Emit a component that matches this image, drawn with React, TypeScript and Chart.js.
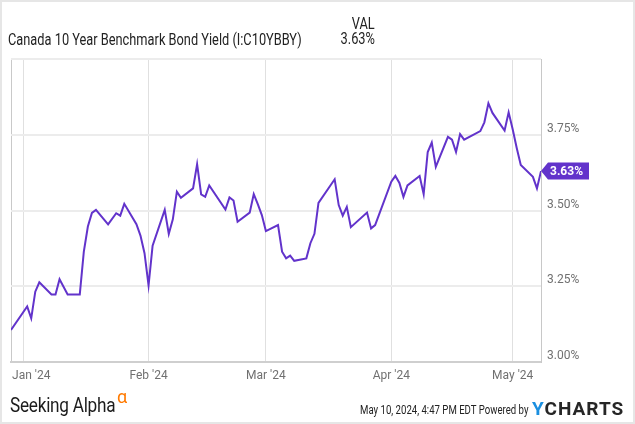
import React, { useEffect, useRef } from 'react';
import { Chart, registerables } from 'chart.js';

Chart.register(...registerables);

// ---- data ----
const seriesTitle = 'Canada 10 Year Benchmark Bond Yield (I:C10YBBY)';
const valHeader = 'VAL';
const lastValueLabel = '3.63%';

const dates = [
  '2023-12-29', '2024-01-02', '2024-01-03', '2024-01-04', '2024-01-05', '2024-01-08', '2024-01-09',
  '2024-01-10', '2024-01-12', '2024-01-15', '2024-01-16', '2024-01-17', '2024-01-18', '2024-01-19',
  '2024-01-22', '2024-01-24', '2024-01-25', '2024-01-26', '2024-01-29', '2024-01-30', '2024-01-31',
  '2024-02-01', '2024-02-02', '2024-02-05', '2024-02-06', '2024-02-07', '2024-02-08', '2024-02-09',
  '2024-02-12', '2024-02-13', '2024-02-14', '2024-02-15', '2024-02-16', '2024-02-20', '2024-02-21',
  '2024-02-22', '2024-02-23', '2024-02-26', '2024-02-27', '2024-02-28', '2024-02-29', '2024-03-01',
  '2024-03-04', '2024-03-05', '2024-03-06', '2024-03-07', '2024-03-08', '2024-03-11', '2024-03-12',
  '2024-03-13', '2024-03-14', '2024-03-18', '2024-03-19', '2024-03-20', '2024-03-21', '2024-03-22',
  '2024-03-26', '2024-03-27', '2024-03-28', '2024-04-01', '2024-04-02', '2024-04-03', '2024-04-04',
  '2024-04-05', '2024-04-08', '2024-04-09', '2024-04-10', '2024-04-11', '2024-04-12', '2024-04-15',
  '2024-04-16', '2024-04-17', '2024-04-18', '2024-04-19', '2024-04-23', '2024-04-24', '2024-04-25',
  '2024-04-26', '2024-04-29', '2024-04-30', '2024-05-01', '2024-05-02', '2024-05-03', '2024-05-06',
  '2024-05-07', '2024-05-08',
];

const yields = [
  3.106, 3.183, 3.144, 3.232, 3.263, 3.223, 3.223,
  3.273, 3.223, 3.223, 3.364, 3.447, 3.492, 3.502,
  3.454, 3.491, 3.483, 3.522, 3.455, 3.417, 3.359,
  3.253, 3.384, 3.502, 3.423, 3.471, 3.562, 3.542,
  3.573, 3.653, 3.553, 3.545, 3.583, 3.503, 3.543,
  3.533, 3.463, 3.493, 3.554, 3.521, 3.485, 3.432,
  3.452, 3.364, 3.342, 3.351, 3.334, 3.342, 3.392,
  3.423, 3.525, 3.603, 3.518, 3.483, 3.512, 3.445,
  3.493, 3.441, 3.452, 3.595, 3.614, 3.591, 3.545,
  3.583, 3.614, 3.554, 3.693, 3.724, 3.644, 3.743,
  3.734, 3.693, 3.752, 3.734, 3.762, 3.791, 3.854,
  3.822, 3.764, 3.824, 3.768, 3.706, 3.650, 3.611,
  3.573, 3.630,
];

const monthGridDates = ['2024-01-01', '2024-02-01', '2024-03-01', '2024-04-01', '2024-05-01'];
const monthLabelDates = ['2024-01-03', '2024-02-01', '2024-03-01', '2024-04-01', '2024-05-01'];
const monthLabels = ["Jan '24", "Feb '24", "Mar '24", "Apr '24", "May '24"];
const yTickValues = [3.0, 3.25, 3.5, 3.75, 4.0];

const footerStamp = 'May 10, 2024, 4:47 PM EDT Powered by';

// ---- helpers ----
const DAY = 86400000;
const ORIGIN = Date.UTC(2024, 0, 1);
const toDay = (s: string) => (Date.parse(s + 'T00:00:00Z') - ORIGIN) / DAY;

const LINE_COLOR = '#6233CB';
const TICK_COLOR = '#707070';

const lastTagPlugin = {
  id: 'lastTag',
  afterDraw(chart: any) {
    const ctx = chart.ctx;
    const y = chart.scales.y.getPixelForValue(yields[yields.length - 1]);
    const x = chart.chartArea.right;
    ctx.save();
    ctx.fillStyle = LINE_COLOR;
    ctx.beginPath();
    ctx.moveTo(x, y);
    ctx.lineTo(x + 7, y - 8.5);
    ctx.lineTo(x + 48, y - 8.5);
    ctx.lineTo(x + 48, y + 8.5);
    ctx.lineTo(x + 7, y + 8.5);
    ctx.closePath();
    ctx.fill();
    ctx.fillStyle = '#ffffff';
    ctx.font = 'bold 12px Roboto';
    ctx.textBaseline = 'middle';
    ctx.textAlign = 'left';
    ctx.fillText(lastValueLabel, x + 9, y + 0.5);
    ctx.restore();
  },
};

function LineChart() {
  const ref = useRef<HTMLCanvasElement | null>(null);
  useEffect(() => {
    if (!ref.current) return;
    const xMin = toDay(dates[0]);
    const xMax = toDay(dates[dates.length - 1]);
    const gridDays = monthGridDates.map(toDay);
    const labelDays = monthLabelDates.map(toDay);
    const chart = new Chart(ref.current, {
      type: 'line',
      data: {
        datasets: [
          {
            label: seriesTitle,
            data: dates.map((d, i) => ({ x: toDay(d), y: yields[i] })),
            borderColor: LINE_COLOR,
            borderWidth: 2,
            pointRadius: 0,
            tension: 0,
            fill: false,
            xAxisID: 'x',
            yAxisID: 'y',
          },
        ],
      },
      options: {
        animation: false,
        responsive: true,
        maintainAspectRatio: false,
        layout: { padding: { left: 11, top: 59, right: 34, bottom: 37 } },
        plugins: { legend: { display: false }, tooltip: { enabled: false } },
        scales: {
          x: {
            type: 'linear',
            position: 'bottom',
            weight: 0,
            min: xMin,
            max: xMax,
            afterBuildTicks: (s: any) => {
              s.ticks = [xMin, ...gridDays].map((v) => ({ value: v }));
            },
            ticks: { display: false },
            grid: {
              color: (c: any) => (c.index === 0 ? '#c9c9c9' : '#e0e0e0'),
              lineWidth: 1,
              drawTicks: false,
            },
            border: { display: true, color: '#cfcfcf', width: 2 },
            afterFit: (s: any) => {
              s.height = 0;
            },
          },
          xl: {
            type: 'linear',
            position: 'bottom',
            weight: 1,
            min: xMin,
            max: xMax,
            afterBuildTicks: (s: any) => {
              s.ticks = labelDays.map((v) => ({ value: v }));
            },
            ticks: {
              callback: (_v: any, i: number) => monthLabels[i],
              color: TICK_COLOR,
              font: { size: 12, family: 'Roboto' },
              padding: 7,
              maxRotation: 0,
              autoSkip: false,
            },
            grid: { display: false, drawTicks: false },
            border: { display: false },
            afterFit: (s: any) => {
              s.height = 25;
            },
          },
          y: {
            position: 'right',
            min: 3,
            max: 4,
            afterBuildTicks: (s: any) => {
              s.ticks = yTickValues.map((v) => ({ value: v }));
            },
            ticks: {
              callback: (v: any) => (Number(v) >= 4 ? '' : Number(v).toFixed(2) + '%'),
              color: TICK_COLOR,
              font: { size: 12, family: 'Roboto' },
              padding: 6,
              labelOffset: -6,
            },
            grid: { color: '#ececec', lineWidth: 2, drawTicks: false },
            border: { display: true, color: '#c8c8c8', width: 1 },
            afterFit: (s: any) => {
              s.width = 60;
            },
          },
        },
      } as any,
      plugins: [lastTagPlugin],
    });
    return () => chart.destroy();
  }, []);
  return <canvas ref={ref} />;
}

export default function App() {
  const condensed = (origin: string) => ({
    display: 'inline-block',
    transform: 'scaleX(0.8)',
    transformOrigin: origin,
    whiteSpace: 'nowrap' as const,
  });
  return (
    <div
      style={{
        position: 'absolute',
        left: 0,
        top: 0,
        width: 635,
        height: 424,
        background: '#ffffff',
        fontFamily: 'Roboto, sans-serif',
        overflow: 'hidden',
      }}
    >
      <div style={{ position: 'absolute', left: 0, top: 0, width: 635, height: 424 }}>
        <LineChart />
      </div>
      <div style={{ position: 'absolute', left: 8, top: 32, fontSize: 16, lineHeight: '16px', color: '#222' }}>
        <span style={condensed('left center')}>{seriesTitle}</span>
      </div>
      <div
        style={{
          position: 'absolute',
          right: 260,
          top: 16,
          fontSize: 16,
          lineHeight: '16px',
          color: '#222',
          textAlign: 'right',
        }}
      >
        <span style={condensed('right center')}>{valHeader}</span>
      </div>
      <div
        style={{
          position: 'absolute',
          right: 260,
          top: 31,
          fontSize: 16,
          lineHeight: '16px',
          color: '#222',
          textAlign: 'right',
        }}
      >
        <span style={condensed('right center')}>{lastValueLabel}</span>
      </div>
      <div style={{ position: 'absolute', left: 10, top: 395, fontSize: 20, lineHeight: '20px', color: '#1c1c1c' }}>
        <span style={{ display: 'inline-block', transform: 'scaleX(0.86)', transformOrigin: 'left center', whiteSpace: 'nowrap', letterSpacing: '-0.3px' }}>
          Seeking Alpha
        </span>
      </div>
      <div style={{ position: 'absolute', left: 117, top: 387, fontSize: 18, lineHeight: '20px', color: '#ff7a00' }}>
        α
      </div>
      <div style={{ position: 'absolute', right: 107, top: 403, fontSize: 12, lineHeight: '14px', color: '#222' }}>
        <span style={condensed('right center')}>{footerStamp}</span>
      </div>
      <div
        style={{
          position: 'absolute',
          left: 532,
          top: 399,
          fontSize: 19,
          lineHeight: '20px',
          fontWeight: 700,
          letterSpacing: '1px',
          color: '#262626',
          whiteSpace: 'nowrap',
        }}
      >
        <span style={{ color: '#1a8fe0' }}>Y</span>CHARTS
      </div>
      <div
        style={{
          position: 'absolute',
          left: 0,
          top: 0,
          width: 635,
          height: 424,
          boxSizing: 'border-box',
          border: '2px solid #e6e6e6',
          pointerEvents: 'none',
        }}
      />
    </div>
  );
}
